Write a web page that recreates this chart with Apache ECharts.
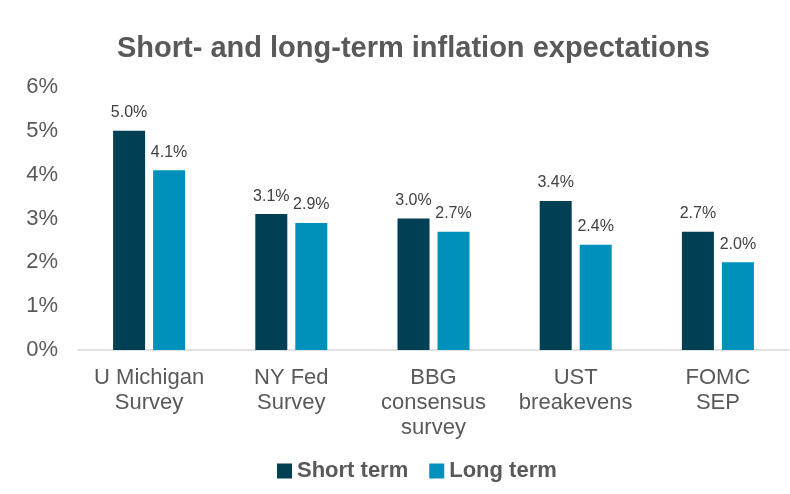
<!DOCTYPE html>
<html><head><meta charset="utf-8">
<script src="https://cdn.jsdelivr.net/npm/echarts@6/dist/echarts.min.js"></script>
<style>html,body{margin:0;padding:0;background:#fff}#c{width:790px;height:494px}</style>
</head><body><div id="c"></div>
<script>
const categories = ['U Michigan\nSurvey', 'NY Fed\nSurvey', 'BBG\nconsensus\nsurvey', 'UST\nbreakevens', 'FOMC\nSEP'];
const shortTerm = [5.0, 3.1, 3.0, 3.4, 2.7];
const longTerm = [4.1, 2.9, 2.7, 2.4, 2.0];
const seriesNames = ['Short term', 'Long term'];
const ff = 'Liberation Sans, Arial, sans-serif';
const chart = echarts.init(document.getElementById('c'), null, {renderer: 'canvas'});
const lbl = {show: true, position: 'top', distance: 10, color: '#404040', fontSize: 16, fontFamily: ff,
  formatter: p => p.value.toFixed(1) + '%'};
chart.setOption({
  animation: false,
  title: {text: 'Short- and long-term inflation expectations', left: 112, top: 29,
    textStyle: {fontSize: 29, fontWeight: 'bold', color: '#595959', fontFamily: ff}},
  legend: {bottom: 7, left: 272, itemWidth: 15, itemHeight: 15, itemGap: 21, icon: 'rect',
    textStyle: {fontSize: 22, fontWeight: 'bold', color: '#595959', fontFamily: ff}},
  grid: {left: 78, right: 1, top: 87, bottom: 144, containLabel: false},
  xAxis: {type: 'category', data: categories,
    axisLine: {lineStyle: {color: '#d9d9d9', width: 1.5}}, axisTick: {show: false},
    axisLabel: {interval: 0, fontSize: 22, color: '#595959', fontFamily: ff, lineHeight: 25, margin: 15}},
  yAxis: {type: 'value', min: 0, max: 6, interval: 1, splitLine: {show: false},
    axisLabel: {formatter: '{value}%', fontSize: 22, color: '#595959', fontFamily: ff, margin: 20},
    axisLine: {show: false}, axisTick: {show: false}},
  series: [
    {name: seriesNames[0], type: 'bar', data: shortTerm, barWidth: 32, barGap: '25%', itemStyle: {color: '#003F54'}, label: lbl},
    {name: seriesNames[1], type: 'bar', data: longTerm, barWidth: 32, itemStyle: {color: '#0090BC'}, label: lbl}
  ]
});
</script></body></html>
